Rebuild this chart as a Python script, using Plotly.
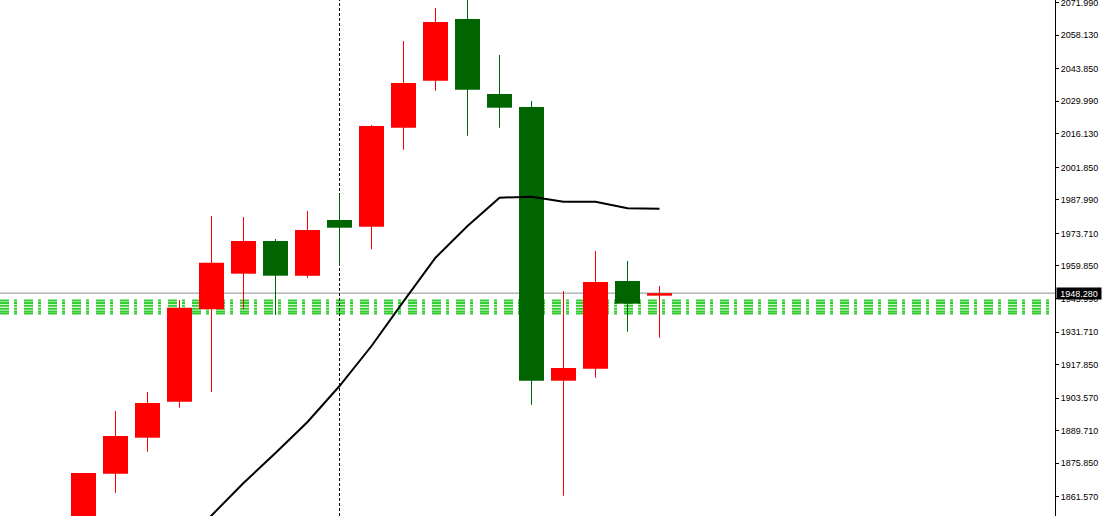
import plotly.graph_objects as go

# ---- data ----
candle_idx = list(range(19))
opens  = [1843.10, 1871.37, 1886.70, 1902.04, 1941.39, 1956.56, 1970.49, 1955.71, 1979.43, 1976.58,
          2018.75, 2038.77, 2065.05, 2033.10, 2027.56, 1910.98, 1916.09, 1953.45, 1947.19]
highs  = [1871.67, 1898.07, 1906.17, 1945.35, 1981.13, 1980.71, 1971.34, 1983.26, 1990.51, 2019.90,
          2055.68, 2069.73, 2076.00, 2049.71, 2030.12, 1949.19, 1966.23, 1961.97, 1951.32]
lows   = [1840.00, 1863.28, 1880.74, 1899.48, 1906.17, 1941.39, 1938.97, 1954.85, 1959.84, 1966.95,
          2009.38, 2034.51, 2015.34, 2018.75, 1900.76, 1862.00, 1912.26, 1931.85, 1929.30]
closes = [1871.67, 1887.43, 1901.48, 1942.07, 1961.24, 1970.49, 1955.71, 1975.17, 1976.15, 2019.47,
          2037.79, 2063.77, 2034.93, 2027.27, 1910.98, 1916.39, 1953.02, 1943.78, 1948.28]

ma_idx  = [3, 4, 5, 6, 7, 8, 9, 10, 11, 12, 13, 14, 15, 16, 17, 18]
ma_vals = [1839.70, 1853.35, 1867.41, 1880.18, 1893.39, 1908.72, 1925.76, 1944.80, 1963.37,
           1976.88, 1988.93, 1989.36, 1987.23, 1987.23, 1984.41, 1984.24]

support_levels = [1945.14, 1944.08, 1942.88, 1941.65, 1940.46, 1939.60]
bid_price = 1948.28
marker_index = 8

tick_vals = [2071.99, 2058.13, 2043.85, 2029.99, 2016.13, 2001.85, 1987.99, 1973.71,
             1959.85, 1945.99, 1931.71, 1917.85, 1903.57, 1889.71, 1875.85, 1861.57]
tick_text = ["%.3f" % v for v in tick_vals]

UP = "#ff0000"
DOWN = "#006400"
BODY_W = 0.78125   # 25 px of a 32 px slot
WICK_W = 0.03125   # 1 px

fig = go.Figure()

# wicks (thin bars from low to high)
for color, up in ((UP, True), (DOWN, False)):
    wx, wy, wb = [], [], []
    for i, o, h, l, c in zip(candle_idx, opens, highs, lows, closes):
        if (c >= o) == up:
            wx.append(i)
            wb.append(l)
            wy.append(h - l)
    fig.add_trace(go.Bar(x=wx, y=wy, base=wb, width=WICK_W,
                         marker=dict(color=color, line=dict(width=0)),
                         hoverinfo="skip", showlegend=False))

# bodies
for color, up in ((UP, True), (DOWN, False)):
    bx, by, bb = [], [], []
    for i, o, c in zip(candle_idx, opens, closes):
        if (c >= o) == up:
            bx.append(i)
            bb.append(min(o, c))
            by.append(abs(c - o))
    fig.add_trace(go.Bar(x=bx, y=by, base=bb, width=BODY_W,
                         marker=dict(color=color, line=dict(width=0)),
                         hoverinfo="skip", showlegend=False))

# moving average
fig.add_trace(go.Scatter(x=ma_idx, y=ma_vals, mode="lines",
                         line=dict(color="black", width=2),
                         hoverinfo="skip", showlegend=False))

# support zone lines
for lvl in support_levels:
    fig.add_shape(type="line", xref="paper", yref="y", x0=0, x1=0.997, y0=lvl, y1=lvl,
                  line=dict(color="#33cc33", width=2, dash="9px,5px,3px,7px"), layer="below")

# bid line
fig.add_shape(type="line", xref="paper", yref="y", x0=0, x1=1, y0=bid_price, y1=bid_price,
              line=dict(color="#87909a", width=1), layer="below")

# vertical dashed marker
fig.add_shape(type="line", xref="x", yref="paper", x0=marker_index, x1=marker_index, y0=0, y1=1,
              line=dict(color="black", width=1, dash="3px,2px"), layer="below")

fig.add_annotation(x=1, xref="paper", y=bid_price, yref="y", xanchor="left", yanchor="middle",
                   xshift=1, text="%.3f" % bid_price, showarrow=False,
                   bgcolor="black", font=dict(color="white", size=9, family="Liberation Sans, Arial"),
                   width=44, height=11, borderpad=0)

fig.update_layout(
    width=1107, height=516,
    margin=dict(l=0, r=52, t=0, b=0, autoexpand=False),
    paper_bgcolor="white", plot_bgcolor="white",
    barmode="overlay",
    showlegend=False,
    xaxis=dict(visible=False, range=[-2.609375, 30.359375], fixedrange=True, automargin=False),
    yaxis=dict(side="right", range=[1853.35, 2073.14], tickmode="array",
               tickvals=tick_vals, ticktext=tick_text,
               ticks="outside", ticklen=3, tickcolor="black", tickwidth=1,
               showline=True, linecolor="black", linewidth=1,
               showgrid=False, zeroline=False, fixedrange=True,
               automargin=False, ticklabeloverflow="allow",
               tickfont=dict(family="Liberation Sans, Arial", size=9, color="black")),
)

fig.write_html("out.html", config={"displayModeBar": False},
               post_script="document.body.style.margin='0';document.body.style.padding='0';document.body.style.overflow='hidden';")
